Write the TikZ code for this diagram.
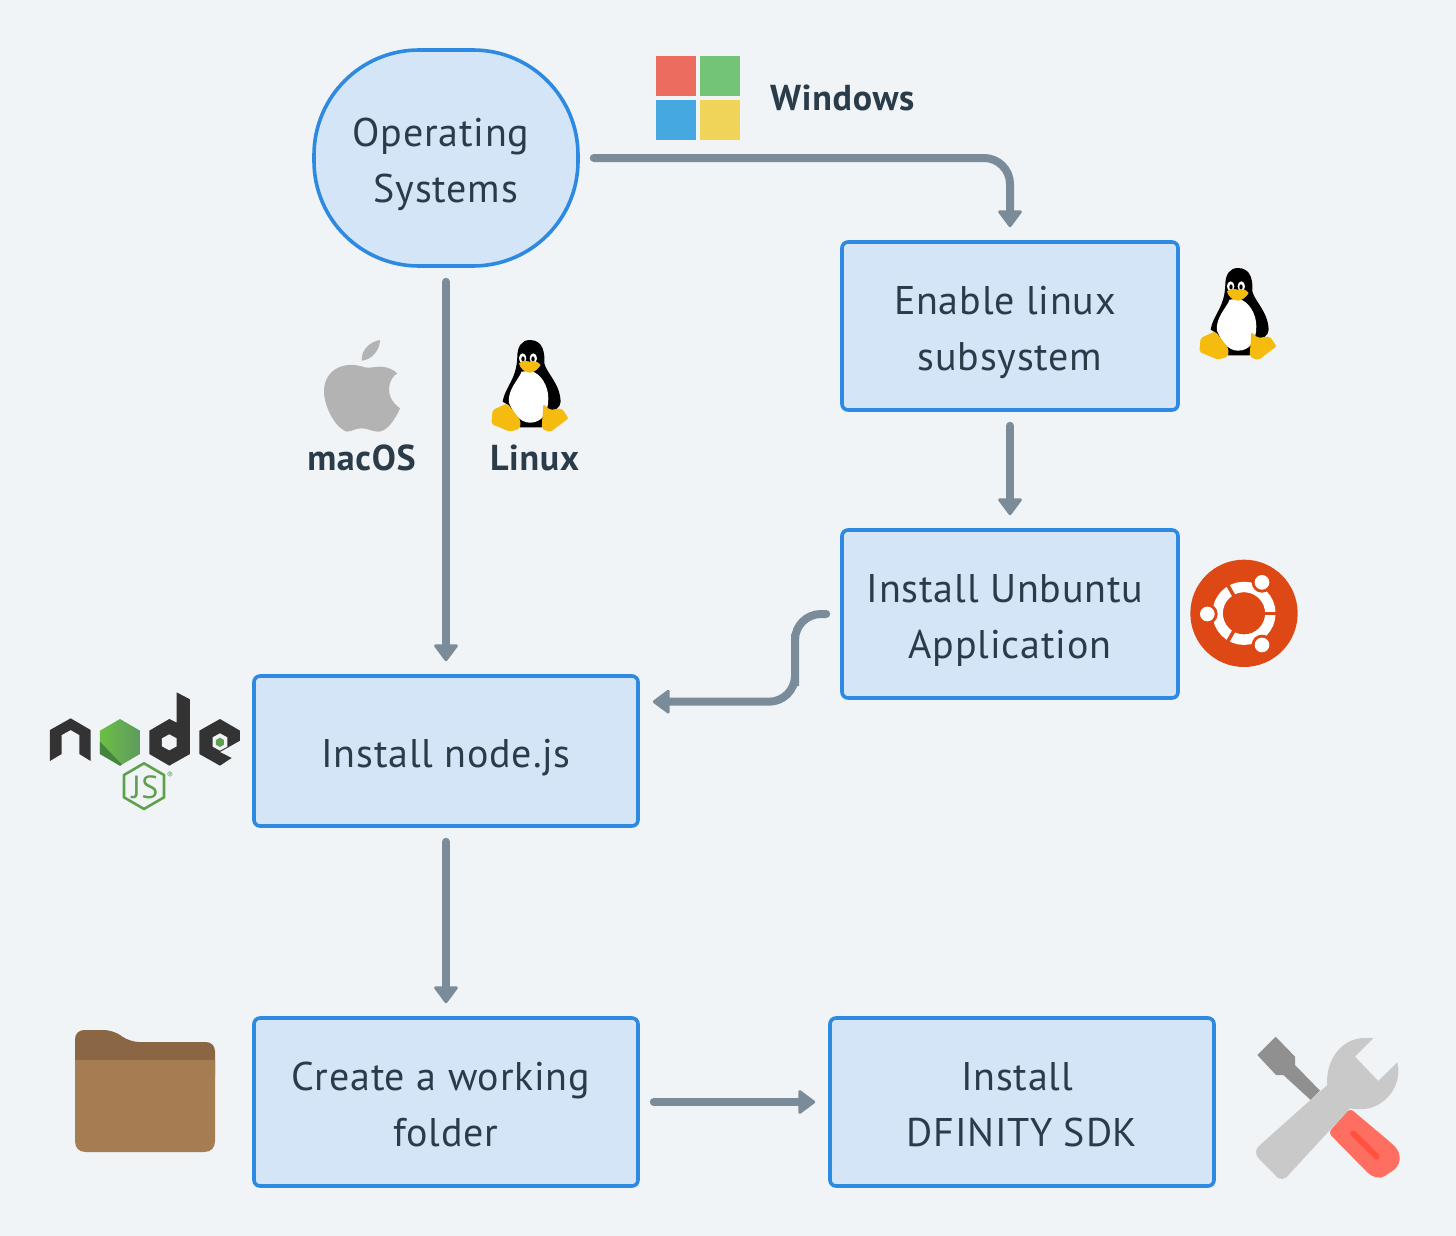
\documentclass[tikz,border=0pt]{standalone}
\usepackage{fontspec}
\setmainfont[LetterSpace=2]{PT Sans}
\usetikzlibrary{arrows.meta}
\definecolor{bgc}{HTML}{F0F4F7}
\definecolor{boxf}{HTML}{D3E5F6}
\definecolor{boxd}{HTML}{2E8AE0}
\definecolor{linec}{HTML}{7A8B9A}
\definecolor{txt}{HTML}{2A3B4A}
\definecolor{pyel}{HTML}{F5BC0F}
\definecolor{ubu}{HTML}{DD4814}
\definecolor{ndark}{HTML}{333333}
\definecolor{ngreen}{HTML}{5FA04E}
\definecolor{nlight}{HTML}{6CBF45}
\definecolor{ngrey}{HTML}{5E9A5F}
\definecolor{ndeep}{HTML}{43853D}
\definecolor{winr}{HTML}{EC6D60}
\definecolor{wing}{HTML}{73C476}
\definecolor{winb}{HTML}{45A8E0}
\definecolor{winy}{HTML}{F0D45A}
\definecolor{foldd}{HTML}{8A6645}
\definecolor{foldf}{HTML}{A67C52}
\definecolor{toolr}{HTML}{FF6F61}
\definecolor{toolrd}{HTML}{FF5040}
\definecolor{toolg}{HTML}{C9C9C9}
\definecolor{tools}{HTML}{909090}
\definecolor{appleg}{HTML}{B3B3B3}
\newcommand{\topS}{\rule{0pt}{42pt}}
\newcommand{\botS}{\rule[-10pt]{0pt}{10pt}}
\tikzset{
  x=1pt,y=-1pt,
  flowbox/.style={draw=boxd,fill=boxf,line width=3.6pt,rounded corners=6pt,align=center,inner sep=0pt,
    font=\fontsize{40}{56}\selectfont,text=txt},
  conn/.style={draw=linec,line width=8pt,line cap=round,rounded corners=26pt,shorten <=14pt,shorten >=13pt,
    -{Triangle[length=18pt,width=26pt,line width=3pt,round]}},
  oslabel/.style={font=\fontsize{36}{40}\selectfont\bfseries,text=txt,inner sep=0pt},
  penguin/.pic={
    \fill[black] (690,30) .. controls (730,30) and (735,70) .. (733,100) .. controls (740,130) and (780,160) .. (782,215)
      .. controls (782,235) and (760,245) .. (745,240) -- (725,292) -- (660,292) -- (625,225) -- (608,215)
      .. controls (615,170) and (650,150) .. (652,80) .. controls (652,50) and (665,30) .. (690,30) -- cycle;
    \fill[white] (690,122) .. controls (725,130) and (745,170) .. (745,205) .. controls (745,250) and (725,278) .. (690,278)
      .. controls (660,278) and (640,250) .. (627,218) .. controls (622,180) and (655,150) .. (665,125) -- cycle;
    \fill[white] (668,85) ellipse [x radius=11,y radius=15];
    \fill[white] (700,85) ellipse [x radius=11,y radius=15];
    \fill[black] (669,87) ellipse [x radius=5,y radius=8];
    \fill[black] (699,87) ellipse [x radius=5,y radius=8];
    \fill[pyel] (657,100) .. controls (670,90) and (680,92) .. (690,95) .. controls (705,92) and (715,95) .. (722,105)
      .. controls (715,118) and (700,128) .. (690,128) .. controls (675,128) and (660,115) .. (657,100) -- cycle;
    \fill[pyel,rounded corners=2pt] (578,240) -- (622,220) -- (662,272) -- (660,296) -- (630,305) -- (574,282) -- cycle;
    \fill[pyel,rounded corners=2pt] (730,222) -- (750,240) -- (785,235) -- (806,265) -- (750,307) -- (725,296) -- cycle;
  },
  applelogo/.pic={
    \fill[appleg] (240,30) .. controls (240,60) and (215,90) .. (185,92) .. controls (183,60) and (210,35) .. (240,30) -- cycle;
    \fill[appleg] (195,112) .. controls (220,118) and (250,95) .. (292,130) .. controls (265,145) and (250,200) .. (300,235)
      .. controls (285,270) and (260,305) .. (235,305) .. controls (215,305) and (205,295) .. (185,295)
      .. controls (165,295) and (155,305) .. (140,305) .. controls (100,290) and (70,220) .. (72,180)
      .. controls (75,120) and (130,90) .. (195,112) -- cycle;
  },
  nodelogo/.pic={
    \fill[ndark] (30,150) -- (92,115) -- (152,150) -- (152,243) -- (118,222) -- (118,165) -- (92,150) -- (65,165) -- (65,222) -- (30,243) -- cycle;
    \shade[left color=nlight,right color=ngrey] (240,117) -- (300,152) -- (300,222) -- (240,257) -- (180,222) -- (180,152) -- cycle;
    \fill[ndeep] (180,185) -- (180,222) -- (240,257) -- (246,254) -- cycle;
    \fill[ndark] (410,37) -- (450,58) -- (450,222) -- (388,257) -- (328,222) -- (328,152) -- (388,117) -- (410,128) -- cycle;
    \fill[bgc] (388,163) -- (410,175) -- (410,199) -- (388,211) -- (366,199) -- (366,175) -- cycle;
    \fill[ndark] (540,117) -- (600,152) -- (600,182) -- (540,216) -- (575,234) -- (540,257) -- (478,222) -- (478,152) -- cycle;
    \fill[bgc] (540,160) -- (562,172) -- (562,200) -- (540,212) -- (518,200) -- (518,172) -- cycle;
    \fill[ngreen] (540,173) -- (552,180) -- (552,194) -- (540,201) -- (528,194) -- (528,180) -- cycle;
    \draw[ngreen,line width=2.6pt,line join=round] (312,250) -- (372,285) -- (372,352) -- (312,387) -- (252,352) -- (252,285) -- cycle;
  },
  toolslogo/.pic={
    \fill[tools] (107,50) -- (165,110) -- (165,135) -- (240,212) -- (212,240) -- (130,165) -- (108,165) -- (52,105) -- cycle;
    \fill[toolr,rounded corners=4pt] (330,265) -- (455,370) .. controls (490,405) and (480,440) .. (445,460)
      .. controls (420,480) and (395,470) .. (375,450) -- (265,338) -- cycle;
    \draw[toolrd,line width=6pt,line cap=round] (340,340) -- (410,410);
    \fill[toolg] (400,55) -- (345,110) -- (415,183) -- (472,127) .. controls (490,200) and (430,265) .. (370,267)
      .. controls (355,267) and (340,268) .. (330,265) -- (150,460) .. controls (135,482) and (118,482) .. (105,465) -- (60,420)
      .. controls (42,400) and (45,388) .. (60,375) -- (262,195) .. controls (255,130) and (300,40) .. (400,55) -- cycle;
  },
  ubuntulogo/.pic={
    \fill[ubu] (192,190) circle [radius=161];
    \draw[white,line width=10.5pt] (192,190) circle [radius=79];
    \draw[ubu,line width=3.5pt] (192,190) -- (300,190);
    \draw[ubu,line width=3.5pt] (192,190) -- (138,96.5);
    \draw[ubu,line width=3.5pt] (192,190) -- (138,283.5);
    \fill[ubu] (192,190) circle [radius=62];
    \fill[ubu] (246,97) circle [radius=31];
    \fill[ubu] (246,285) circle [radius=31];
    \fill[ubu] (82,192) circle [radius=31];
    \fill[white] (246,97) circle [radius=22];
    \fill[white] (246,285) circle [radius=22];
    \fill[white] (82,192) circle [radius=22];
  },
}
\begin{document}
\begin{tikzpicture}
\fill[bgc] (0,0) rectangle (1456,1236);
\useasboundingbox (0,0) rectangle (1456,1236);

% boxes
\node[flowbox,rounded corners=105pt,minimum width=264pt,minimum height=216pt] (os) at (446,158) {\topS Operating\hspace*{10pt}\\Systems\botS};
\node[flowbox,minimum width=336pt,minimum height=168pt] (enable) at (1010,326) {\topS Enable linux\hspace*{10pt}\\subsystem\botS};
\node[flowbox,minimum width=336pt,minimum height=168pt] (ubuntu) at (1010,614) {\topS Install Unbuntu\hspace*{10pt}\\Application\botS};
\node[flowbox,minimum width=384pt,minimum height=150pt] (nodejs) at (446,751) {\topS Install node.js\botS};
\node[flowbox,minimum width=384pt,minimum height=168pt] (folder) at (446,1102) {\topS Create a working\hspace*{10pt}\\folder\botS};
\node[flowbox,minimum width=384pt,minimum height=168pt] (sdk) at (1022,1102) {\topS Install\hspace*{10pt}\\DFINITY SDK\botS};

% connector helpers
\coordinate (nodein) at ([yshift=-27.5pt]nodejs.north east);
\coordinate (bend) at (795,660);

% connectors
\draw[conn] (os.east) -| (enable.north);
\draw[conn] (os.south) -- (nodejs.north);
\draw[conn] (enable.south) -- (ubuntu.north);
\draw[conn] (ubuntu.west) -| (bend) |- (nodein);
\draw[conn] (nodejs.south) -- (folder.north);
\draw[conn] (folder.east) -- (sdk.west);

% labels
\node[oslabel,anchor=west] (winlabel) at (770,98) {Windows};
\node[oslabel] (maclabel) at (361.5,458) {macOS};
\node[oslabel] (linuxlabel) at (534.5,458) {Linux};

% Windows logo
\fill[winr] (656,56) rectangle (696,96);
\fill[wing] (700,56) rectangle (740,96);
\fill[winb] (656,100) rectangle (696,140);
\fill[winy] (700,100) rectangle (740,140);

% icons
\pic[scale=0.3333] at (300,330) {applelogo};
\pic[scale=0.3333] at (300,330) {penguin};
\pic[scale=0.3333] at (1008,258) {penguin};
\pic[scale=0.3333] at (1180,550) {ubuntulogo};
\pic[scale=0.3333] at (40,680) {nodelogo};
\pic[scale=0.3333] at (1240,1020) {toolslogo};
\node[text=ngreen,font=\fontsize{32}{32}\selectfont,inner sep=0pt] (jstext) at (145,787) {JS};
\node[text=ngreen,font=\fontsize{9}{9}\selectfont,inner sep=0pt] (regmark) at (170,775) {®};

% folder
\fill[foldd,rounded corners=9pt] (75,1085) -- (75,1030) -- (113,1030) -- (130,1042) -- (215,1042) -- (215,1085) -- cycle;
\fill[foldf] (75,1060) -- (215,1060) -- (215,1141) .. controls (215,1148) and (211,1152) .. (204,1152) -- (86,1152) .. controls (79,1152) and (75,1148) .. (75,1141) -- cycle;
\end{tikzpicture}
\end{document}
